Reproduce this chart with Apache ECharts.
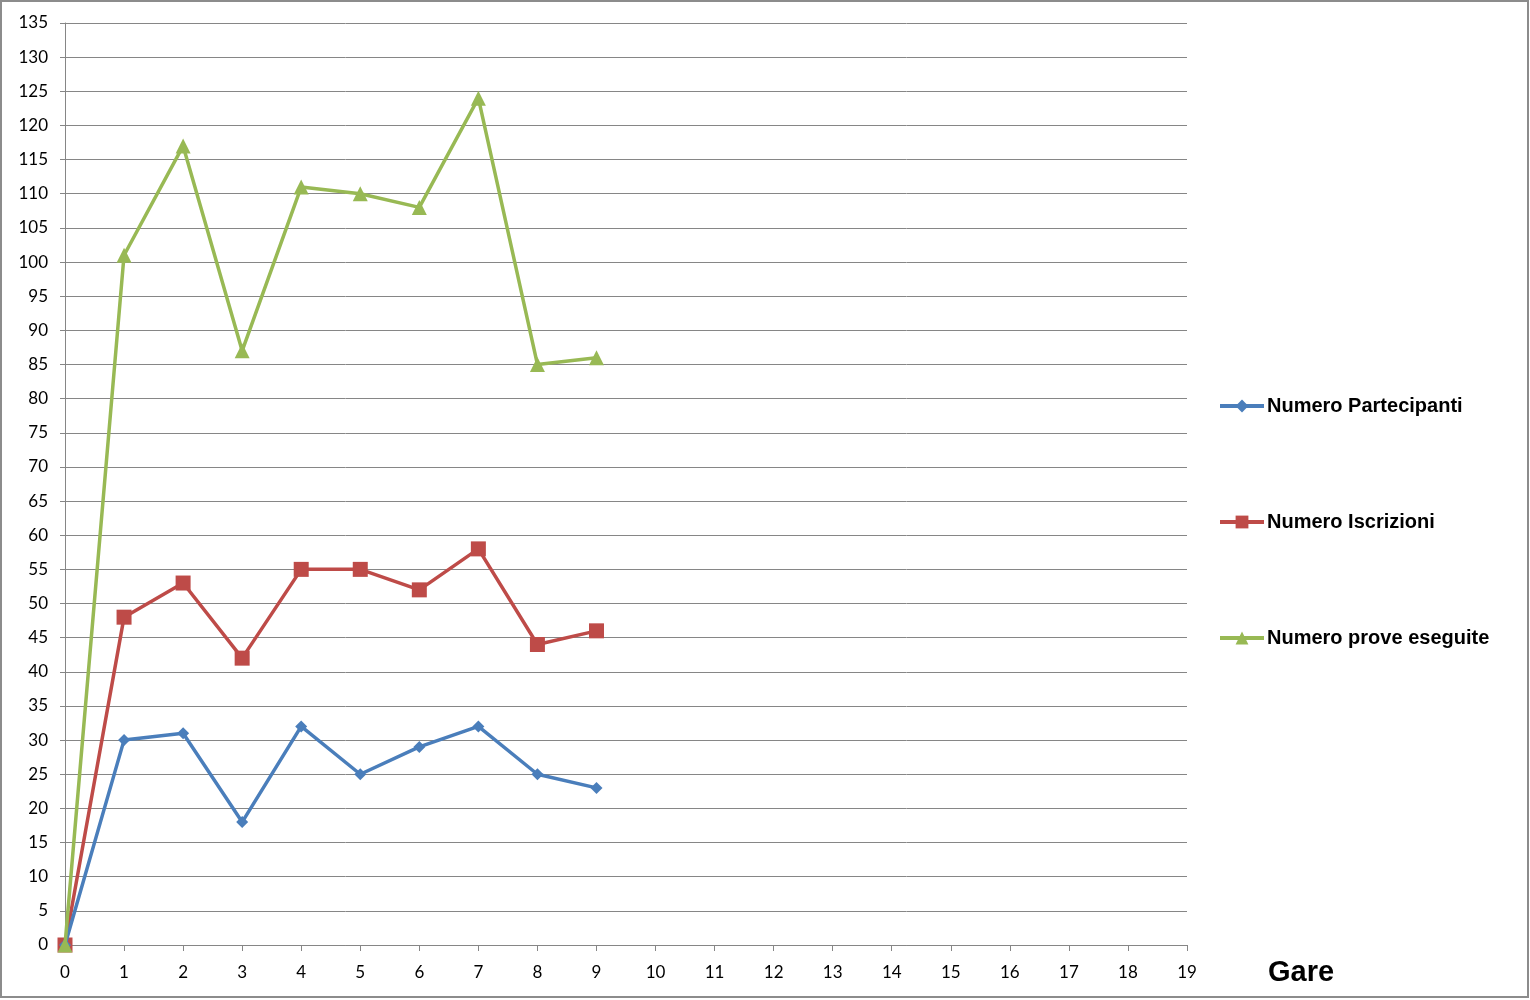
<!DOCTYPE html>
<html><head><meta charset="utf-8">
<script src="https://cdn.jsdelivr.net/npm/echarts@6/dist/echarts.min.js"></script>
<style>html,body{margin:0;padding:0;background:#fff}#c{width:1530px;height:1000px}</style>
</head><body><div id="c"></div>
<script>
const gare = [0,1,2,3,4,5,6,7,8,9];
const partecipanti = [0,30,31,18,32,25,29,32,25,23];
const iscrizioni = [0,48,53,42,55,55,52,58,44,46];
const prove = [0,101,117,87,111,110,108,124,85,86];
const seriesNames = ['Numero Partecipanti','Numero Iscrizioni','Numero prove eseguite'];
const colors = ['#4A7EBB','#BE4B48','#98B954'];

const chart = echarts.init(document.getElementById('c'));
const pair = arr => gare.map((g,i)=>[g,arr[i]]);
const axisGray = '#868686';
chart.setOption({
  animation:false,
  color: colors,
  grid:{left:65,top:23,right:343,bottom:55,containLabel:false},
  graphic:[
    {type:'rect',shape:{x:1,y:1,width:1527,height:996},style:{fill:'none',stroke:'#8c8c8c',lineWidth:2},z:-1},
    {type:'text',left:1268,top:958,style:{text:'Gare',font:'bold 29px "Liberation Sans", Arial',fill:'#000'}}
  ],
  legend:{
    orient:'vertical',left:1213,top:391,itemGap:96,itemWidth:44,itemHeight:16,
    lineStyle:{width:4},
    textStyle:{fontFamily:'"Liberation Sans", Arial',fontWeight:'bold',fontSize:20,color:'#000',padding:[0,0,0,-2]},
    data:seriesNames
  },
  xAxis:{
    type:'value',min:0,max:19,interval:1,
    axisLine:{show:true,lineStyle:{color:axisGray,width:1}},
    axisTick:{show:true,length:6,lineStyle:{color:axisGray}},
    splitLine:{show:false},
    axisLabel:{fontFamily:'Lato, "Open Sans", sans-serif',fontSize:17,color:'#000',margin:19}
  },
  yAxis:{
    type:'value',min:0,max:135,interval:5,
    axisLine:{show:true,lineStyle:{color:axisGray,width:1}},
    axisTick:{show:true,length:5,lineStyle:{color:axisGray}},
    splitLine:{show:true,lineStyle:{color:axisGray,width:1}},
    axisLabel:{fontFamily:'Lato, "Open Sans", sans-serif',fontSize:17,color:'#000',margin:17}
  },
  series:[
    {name:seriesNames[0],type:'line',data:pair(partecipanti),symbol:'diamond',symbolSize:12,clip:false,
     lineStyle:{width:3.5,color:colors[0]},itemStyle:{color:colors[0]},z:4},
    {name:seriesNames[1],type:'line',data:pair(iscrizioni),symbol:'rect',symbolSize:15,clip:false,
     lineStyle:{width:3.5,color:colors[1]},itemStyle:{color:colors[1]},z:3},
    {name:seriesNames[2],type:'line',data:pair(prove),symbol:'triangle',symbolSize:15,clip:false,
     lineStyle:{width:3.5,color:colors[2]},itemStyle:{color:colors[2]},z:5}
  ]
});
</script></body></html>
